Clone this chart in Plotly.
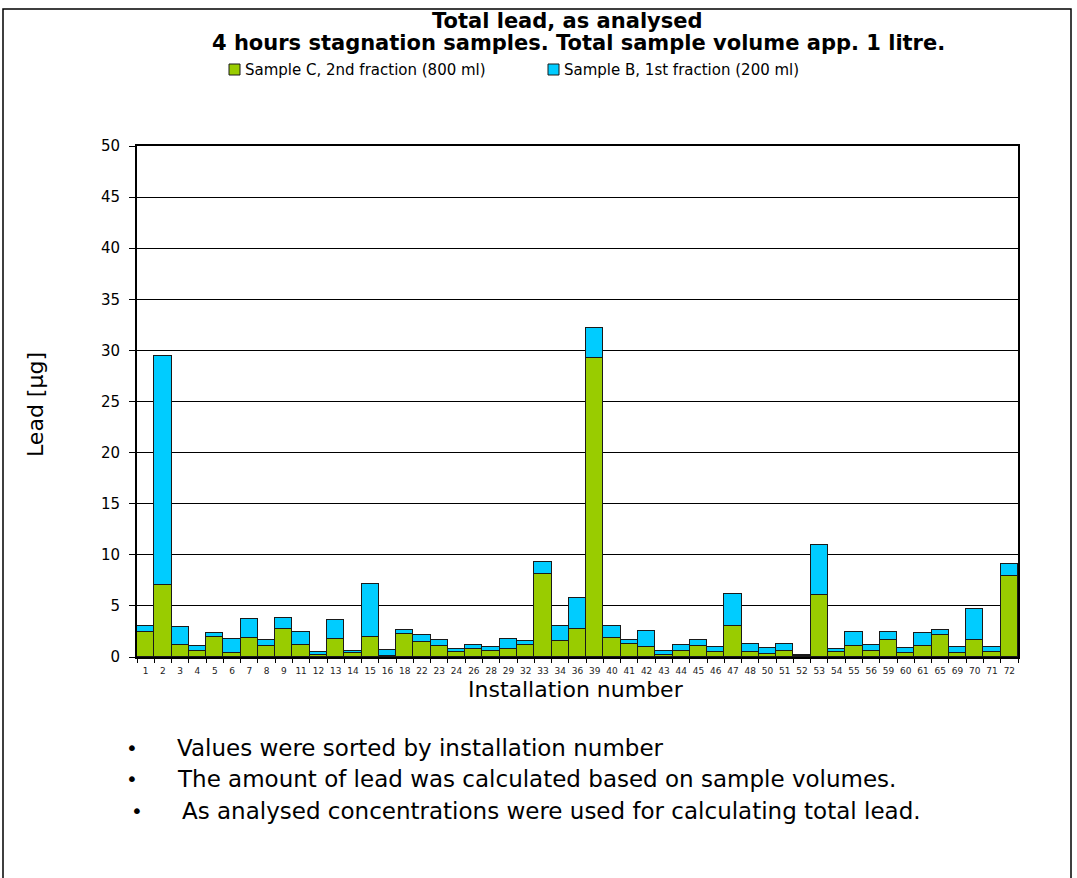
import plotly.graph_objects as go

# Installation numbers (category axis)
installations = ["1", "2", "3", "4", "5", "6", "7", "8", "9", "11", "12", "13", "14", "15", "16",
                 "18", "22", "23", "24", "26", "28", "29", "32", "33", "34", "36", "39", "40", "41",
                 "42", "43", "44", "45", "46", "47", "48", "50", "51", "52", "53", "54", "55", "56",
                 "59", "60", "61", "65", "69", "70", "71", "72"]

# Lead in sample C, 2nd fraction (800 ml), µg
sample_c = [2.45, 7.05, 1.2, 0.62, 1.96, 0.39, 1.83, 1.08, 2.77, 1.17, 0.23, 1.73, 0.36, 1.99, 0.13,
            2.25, 1.47, 1.08, 0.52, 0.75, 0.59, 0.82, 1.17, 8.09, 1.6, 2.77, 29.3, 1.83, 1.24,
            0.95, 0.16, 0.59, 1.08, 0.46, 3.07, 0.46, 0.29, 0.55, 0.12, 6.1, 0.49, 1.08, 0.55,
            1.7, 0.39, 1.08, 2.15, 0.39, 1.7, 0.49, 7.93]

# Lead in sample B, 1st fraction (200 ml), µg
sample_b = [0.58, 22.4, 1.77, 0.42, 0.36, 1.4, 1.92, 0.55, 1.05, 1.28, 0.26, 1.92, 0.19, 5.19, 0.59,
            0.39, 0.68, 0.62, 0.26, 0.46, 0.42, 0.94, 0.36, 1.17, 1.4, 3.0, 2.9, 1.2, 0.39,
            1.59, 0.39, 0.55, 0.55, 0.49, 3.09, 0.78, 0.62, 0.72, 0.05, 4.9, 0.33, 1.37, 0.59,
            0.71, 0.49, 1.3, 0.49, 0.56, 2.96, 0.52, 1.14]

series_names = ["Sample C, 2nd fraction (800 ml)", "Sample B, 1st fraction (200 ml)"]
title_lines = ["Total lead, as analysed",
               "4 hours stagnation samples. Total sample volume app. 1 litre."]
notes = ["Values were sorted by installation number",
         "The amount of lead was calculated based on sample volumes.",
         "As analysed concentrations were used for calculating total lead."]

GREEN = "#99CC00"
BLUE = "#00CCFF"
EDGE = "#1a1a1a"
FONT = "DejaVu Sans, Verdana, sans-serif"

# plot-area pixel geometry
L, R, T, B = 137, 1018, 146, 657
W, H = 1077, 878


def px(x):
    return (x - L) / (R - L)


def py(y):
    return (B - y) / (B - T)


fig = go.Figure()
for name, vals, col in zip(series_names, [sample_c, sample_b], [GREEN, BLUE]):
    fig.add_trace(go.Bar(x=installations, y=vals, name=name,
                         marker=dict(color=col, line=dict(color=EDGE, width=1.5))))

fig.update_layout(
    width=W, height=H,
    margin=dict(l=L, r=W - R, t=T, b=H - B, autoexpand=False),
    barmode="stack", bargap=0,
    plot_bgcolor="white", paper_bgcolor="white",
    font=dict(family=FONT, color="black"),
    showlegend=False,
)

fig.update_xaxes(
    type="category", tickson="boundaries", ticks="outside", ticklen=4, tickcolor="black",
    tickangle=0, tickfont=dict(size=9, family=FONT, color="#222222"), ticklabelstandoff=4,
    showline=True, linecolor="black", linewidth=2, mirror=True, showgrid=False,
)
fig.update_yaxes(
    range=[0, 50], dtick=5, ticks="outside", ticklen=6, tickcolor="black",
    tickfont=dict(size=15, family=FONT), ticklabelstandoff=6, showline=True,
    linecolor="black", linewidth=2, mirror=True, showgrid=True, gridcolor="black",
    gridwidth=1, zeroline=False,
)


def label(text, x, y, size, anchor="center", bold=False, angle=0):
    fig.add_annotation(text=f"<b>{text}</b>" if bold else text, x=px(x), y=py(y),
                       xref="paper", yref="paper", xanchor=anchor, yanchor="middle",
                       showarrow=False, textangle=angle, font=dict(size=size, family=FONT))


# titles
label(title_lines[0], 567, 21, 21, bold=True)
label(title_lines[1], 578, 43, 21, bold=True)

# legend row
for name, col, mx in zip(series_names, [GREEN, BLUE], [229, 548]):
    fig.add_shape(type="rect", xref="paper", yref="paper",
                  x0=px(mx), x1=px(mx + 11), y0=py(75), y1=py(64),
                  fillcolor=col, line=dict(color=EDGE, width=1))
    label(name, mx + 14, 70, 15, anchor="left")

# axis titles
label("Lead [µg]", 35, 405, 22, angle=-90)
label("Installation number", 576, 689, 22)

# notes below the chart
for text, y, x, bx in zip(notes, [748, 779, 811], [175, 175, 180], [132, 132, 137]):
    label("•", bx, y, 20)
    label(text, x, y, 23, anchor="left")

# outer frame around the whole chart
fig.add_shape(type="rect", xref="paper", yref="paper",
              x0=px(3), x1=px(1071), y0=py(900), y1=py(9),
              line=dict(color="black", width=1.5), fillcolor="rgba(0,0,0,0)", layer="below")

fig.write_html("out.html")
